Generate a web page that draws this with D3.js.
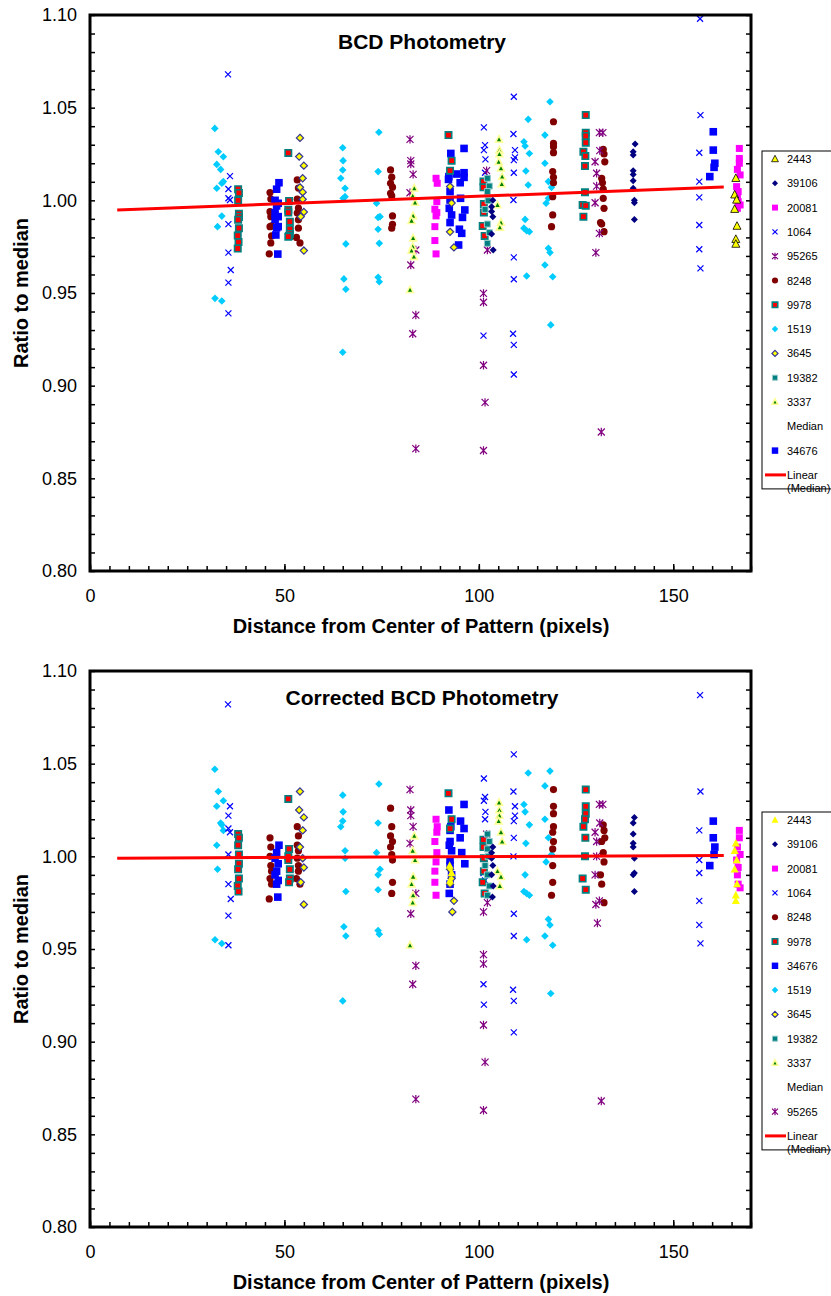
<!DOCTYPE html>
<html>
<head>
<meta charset="utf-8">
<script src="https://cdn.jsdelivr.net/npm/d3@7"></script>
<style>
  body { margin: 0; background: #fff; }
  svg { font-family: "Liberation Sans", Arial, sans-serif; }
  .tick text { font-size: 18px; fill: #000; }
  .axis path { display: none; }
  .axis line { stroke: #000; stroke-width: 1.5; }
  .title { font-size: 21px; font-weight: bold; }
  .axisLabel { font-size: 20px; font-weight: bold; }
  .legend text { font-size: 11px; }
</style>
</head>
<body>
<svg id="chart" width="831" height="1296"></svg>
<script>
'use strict'

// ---------- chart 1 : BCD Photometry ----------
const bcd2443 = [[166.1,1.0119],[165.8,1.003],[166.3,1.0002],[165.8,0.9952],[166.4,0.9861],[166.1,0.979],[166.1,0.9764]]
const bcd39106 = [[103.6,1.0],[103.3,0.9966],[103.3,0.994],[103.6,0.9912],[103.3,0.9818],[103.7,0.9732],
  [140.2,1.0304],[139.7,1.0262],[139.7,1.0244],[139.7,1.016],[139.7,1.014],[139.7,1.0106],[139.7,1.0065],[140,1.0],[140,0.9987],[140,0.9897]]
const bcd20081 = [[89,1.0119],[89.3,1.0092],[89.2,0.9993],[88.7,0.9952],[89.2,0.9934],[89,0.9916],[88.7,0.9858],[88.7,0.9783],[89,0.9711],
  [167,1.028],[167,1.0226],[167,1.02],[166.5,1.0167],[167.2,1.0137],[166.3,1.0074],[166.7,1.0047],[166.5,1.0029],[166.7,0.9993],[167.2,0.9975],[166.5,0.9957]]
const bcd1064 = [[35.5,1.068],[36,1.0131],[35.6,1.0061],[35.6,1.0011],[36,1.0002],[35.6,0.9872],[35.6,0.9718],[36.2,0.9624],[35.6,0.9556],[35.6,0.939],
  [101.3,1.0394],[101.6,1.0298],[101.3,1.0271],[101.7,1.0221],[101.6,1.0149],[101.2,0.927],
  [109,1.0559],[108.9,1.0358],[109.3,1.0271],[109.3,1.0232],[109,1.0217],[109,1.0149],[108.9,1.0002],[109,0.9692],[109,0.9574],[108.8,0.928],[109,0.922],[109,0.906],
  [156.9,1.098],[157,1.046],[156.7,1.0257],[156.7,1.0101],[156.7,1.0016],[156.7,0.9867],[156.7,0.9736],[157,0.9633]]
const bcd95265 = [[82.3,1.0329],[82.5,1.0214],[82.5,1.0196],[83.1,1.014],[82.3,1.0041],[83.8,0.9732],[82.5,0.9651],[83.8,0.9381],[83,0.928],[83.8,0.866],
  [102,1.016],[102.2,0.9732],[101.2,0.9498],[101.2,0.945],[101.2,0.911],[101.6,0.891],[101.2,0.865],
  [131,1.0365],[131.9,1.0365],[131.1,1.0268],[129.9,1.0208],[130.3,1.0146],[130.3,1.0077],[129.9,0.9987],[131,0.9822],[130.1,0.9718],[131.5,0.875]]
const bcd8248 = [[46.3,1.0042],[46.5,1.0007],[46.3,0.9939],[46.5,0.9912],[46.7,0.9862],[46.3,0.9858],[46.7,0.9808],[46.5,0.977],[46.1,0.9711],
  [53.3,1.011],[53.6,1.0066],[53.3,1.0006],[53.6,0.9958],[53.3,0.9931],[53.6,0.9895],[53.6,0.985],[53.1,0.98],[54,0.977],
  [77.3,1.0164],[77.6,1.0125],[77.3,1.0092],[77.8,1.0071],[77.3,1.0038],[77.6,1.0024],[77.8,0.9916],[77.8,0.9871],[77.6,0.985],
  [119.2,1.0424],[119.2,1.0307],[119.2,1.0289],[119.2,1.0257],[119,1.0155],[119.2,1.0124],[119.2,1.0095],[119,1.002],[119,0.9921],[118.7,0.9858],
  [132,1.0275],[132.2,1.025],[132.4,1.0208],[131.6,1.0119],[131.8,1.0095],[132,1.006],[132,1.0011],[132.2,0.9957],[131.3,0.988],[131.6,0.9872],[132.2,0.9831]]
const bcd9978 = [[38.1,1.006],[38.3,1.004],[38.1,1.0],[38.3,0.9927],[38.3,0.991],[38.1,0.9895],[38.3,0.985],[38,0.981],[38.2,0.9775],[38,0.974],
  [51,1.0256],[51.2,0.9997],[51,0.9949],[51,0.9934],[51.4,0.9885],[51.4,0.9844],[51.4,0.9819],[51.2,0.9808],[51,0.9804],
  [92.2,1.0352],[93,1.0214],[92.6,1.016],
  [101.2,1.0101],[101.2,1.007],[101.3,0.998],[101.3,0.9935],[101,0.9862],[101.5,0.9808],
  [127.5,1.046],[127.5,1.0365],[127.5,1.0347],[127.5,1.0311],[126.9,1.0262],[127.4,1.0239],[127.3,1.0185],[127.3,1.0043],[126.7,0.9975],[127.5,0.9971],[126.9,0.9912]]
const bcd1519 = [[32.1,1.0388],[33,1.0262],[34.3,1.0235],[32.6,1.0194],[33.6,1.0167],[33.9,1.0092],[34.3,1.0101],[32.6,1.0065],[33.9,0.9915],[32.8,0.9858],[32.15,0.9471],[33.9,0.9457],
  [65,1.0284],[65.1,1.0214],[65,1.0164],[64.5,1.0119],[65.6,1.0065],[65.6,1.002],[65.1,1.0011],[65.8,0.9765],[65.3,0.9576],[65.8,0.952],[65,0.918],
  [74.3,1.0367],[74.1,1.0155],[73.7,0.9984],[74.6,0.9912],[74.1,0.9908],[74.1,0.9844],[74.4,0.9768],[74.1,0.9585],[74.4,0.9561],
  [112.7,1.0437],[111.6,1.0316],[111.9,1.0293],[113,1.0253],[112.1,1.0158],[112.7,1.0083],[111.9,0.9897],[111.6,0.985],[112.3,0.9836],[113,0.9831],[112.3,0.9592],
  [118.3,1.0532],[117,1.0352],[117,1.02],[117.9,1.0101],[118.7,1.007],[117.9,1.0011],[117.3,0.9984],[117.9,0.9741],[118.3,0.9718],[117,0.9651],[119,0.9588],[118.5,0.9328]]
const bcd3645 = [[54,1.0337],[53.8,1.0236],[55,1.0187],[54.7,1.0119],[54,1.007],[54.7,1.0044],[54.7,1.0006],[55,0.9937],[54.2,0.9912],[55,0.9729],
  [92.6,1.0074],[93,0.9985],[92.6,0.983],[93.6,0.9746]]
const bcd19382 = [[102.2,1.0119],[102.7,1.0077],[102.2,1.0047],[102.4,0.9998],[101.6,0.9951],[102.2,0.9872],[102.7,0.9826],[102.2,0.9768]]
const bcd3337 = [[83.4,1.0065],[83,1.0024],[83.6,0.9988],[83.1,0.9916],[82.7,0.989],[83.1,0.9796],[83,0.975],[82.7,0.9729],[83.3,0.9696],[82.3,0.9517],
  [105.2,1.0329],[105.3,1.0271],[105.3,1.025],[105.1,1.0208],[105.7,1.0173],[106,1.0128],[105.9,1.0088],[104.8,0.9975],[105.7,0.988],[105.4,0.9854]]
const bcd34676 = [[48.6,1.0095],[48,1.006],[47.6,1.0],[48.4,0.9984],[48,0.997],[47.6,0.9933],[48.4,0.9912],[47.6,0.9897],[48.4,0.9858],[48,0.9852],[47.8,0.9813],[48.3,0.971],
  [92.3,1.0128],[92.8,1.0253],[92.6,1.0047],[92.6,1.0002],[92.4,0.9957],[93,0.9921],[92.6,0.988],[96.2,1.028],[94.3,1.0142],[95.2,1.0095],[96.2,1.0149],[96.2,1.0124],
  [95.3,1.0011],[96.4,0.9948],[95.8,0.9908],[95,0.9844],[95.6,0.9822],[94.8,0.9759],[92.2,1.0113],
  [160.3,1.037],[160.3,1.0271],[160.7,1.02],[160.5,1.0178],[159.4,1.0128]]
const bcdTrendX = [7, 163]
const bcdTrendY = [0.9948, 1.0072]

// ---------- chart 2 : Corrected BCD Photometry ----------
const cor2443 = [[92.5,0.995],[93,0.991],[92.6,0.987],
  [166.1,1.007],[165.8,1.003],[166.3,0.998],[165.8,0.993],[166.4,0.985],[166.1,0.979],[166.1,0.976]]
const cor39106 = [[103.6,1.005],[103.3,1.002],[103.3,0.999],[103.6,0.995],[103.3,0.990],[103.7,0.984],[103.5,0.978],
  [140,1.021],[139.7,1.018],[139.7,1.012],[139.7,1.007],[139.7,1.005],[140,0.999],[140,0.991],[139.7,0.990],[140,0.981]]
const cor20081 = [[89,1.020],[89.3,1.016],[89.2,1.013],[88.7,1.008],[89.2,1.002],[89,0.997],[88.7,0.992],[88.7,0.986],[89,0.979],
  [167,1.014],[167,1.010],[166.5,1.005],[167.2,1.001],[166.3,0.998],[166.7,0.994],[166.5,0.990],[166.7,0.985],[167.2,0.983]]
const cor1064 = [[35.5,1.082],[36,1.027],[35.6,1.022],[35.6,1.015],[36,1.013],[35.6,1.001],[35.6,0.985],[36.2,0.977],[35.6,0.968],[35.6,0.952],
  [101.3,1.042],[101.6,1.032],[101.3,1.030],[101.7,1.024],[101.6,1.020],[101.3,1.008],[101.2,0.991],[101.6,0.987],[101.2,0.931],[101.3,0.920],
  [109,1.055],[108.9,1.035],[109.3,1.027],[109.3,1.022],[109,1.019],[109,1.010],[108.9,1.0],[109,0.969],[109,0.957],[108.8,0.928],[109,0.922],[109,0.905],
  [156.9,1.087],[157,1.035],[156.7,1.014],[156.7,0.998],[156.7,0.991],[156.7,0.976],[156.7,0.963],[157,0.953]]
const cor8248 = [[46.3,1.010],[46.5,1.005],[46.3,1.0],[46.5,0.995],[46.7,0.992],[46.3,0.988],[46.7,0.985],[46.1,0.977],
  [53.3,1.016],[53.6,1.011],[53.3,1.006],[53.6,1.003],[53.3,0.999],[53.6,0.995],[53.6,0.992],[53.1,0.988],[54,0.985],
  [77.3,1.026],[77.6,1.016],[77.3,1.011],[77.8,1.008],[77.3,1.005],[77.6,1.001],[77.8,0.998],[77.8,0.986],[77.6,0.980],
  [119.2,1.036],[119.2,1.027],[119.2,1.023],[119.2,1.016],[119,1.013],[119.2,1.008],[119,1.004],[119,0.995],[119,0.986],[118.7,0.979],
  [132,1.017],[132.2,1.014],[132.4,1.010],[131.6,1.008],[132,1.002],[132.2,0.997],[131.3,0.990],[131.6,0.985],[132.2,0.975]]
const cor9978 = [[38.1,1.012],[38.3,1.010],[38.1,1.006],[38.3,1.001],[38.3,0.996],[38.1,0.993],[38.3,0.988],[38,0.984],[38.2,0.981],
  [51,1.031],[51.2,1.004],[51,1.0],[51,0.998],[51.4,0.993],[51.4,0.988],[51.2,0.986],
  [92.2,1.034],[93,1.020],[92.6,1.015],
  [101.2,1.009],[101.2,1.005],[101.3,0.999],[101.3,0.992],[101,0.986],[101.5,0.980],
  [127.5,1.036],[127.5,1.027],[127.5,1.023],[127.3,1.020],[126.9,1.016],[127.4,1.010],[127.3,1.0],[126.7,0.988],[127.5,0.982]]
const cor34676 = [[48.6,1.006],[48,1.002],[47.6,0.999],[48.4,0.996],[48,0.992],[47.6,0.990],[48.4,0.987],[48,0.985],[48.3,0.978],
  [92.3,1.025],[92.8,1.016],[92.6,1.014],[92.6,1.008],[92.4,1.006],[93,1.003],[92.6,0.998],[92.6,0.995],[93,0.990],[92.6,0.985],[92.4,0.980],
  [96.2,1.028],[95.3,1.019],[96.2,1.015],[95.2,1.010],[95.6,1.002],[96.4,0.996],
  [160.3,1.019],[160.3,1.010],[160.7,1.005],[160.5,1.001],[159.4,0.995]]
const cor1519 = [[32.1,1.047],[33,1.035],[34.3,1.030],[32.6,1.027],[33.6,1.018],[33.9,1.017],[34.3,1.014],[32.6,1.006],[32.8,0.993],[32.15,0.955],[33.9,0.953],
  [65,1.033],[65.1,1.024],[65,1.019],[64.5,1.016],[65.6,1.003],[65.6,0.999],[65.8,0.981],[65.3,0.962],[65.8,0.957],[65,0.922],
  [74.3,1.039],[74.1,1.018],[73.7,1.002],[74.6,0.993],[74.1,0.990],[74.1,0.982],[74.1,0.960],[74.4,0.958],
  [112.7,1.045],[111.6,1.028],[111.9,1.024],[113,1.017],[112.1,1.007],[111.9,0.990],[111.6,0.981],[112.3,0.980],[113,0.979],[112.3,0.955],
  [118.3,1.046],[117,1.038],[117,1.020],[117.9,1.010],[118.7,1.001],[117.3,0.997],[117.9,0.966],[118.3,0.963],[117,0.957],[119,0.952],[118.5,0.926]]
const cor3645 = [[54,1.035],[53.8,1.025],[55,1.021],[54.7,1.014],[54,1.005],[54.7,0.999],[55,0.994],[54.2,0.986],[55,0.974],
  [92.6,0.993],[93,0.988],[92.6,0.985],[93.6,0.976],[93.2,0.970]]
const cor19382 = [[102.2,1.012],[102.7,1.008],[102.2,1.004],[102.4,1.0],[101.6,0.995],[102.2,0.990],[102.7,0.984],[102.2,0.979]]
const cor3337 = [[83.4,1.011],[83,1.003],[83.6,0.998],[83.1,0.989],[82.7,0.985],[83.1,0.979],[83,0.975],[82.3,0.952],
  [105.2,1.029],[105.3,1.025],[105.3,1.022],[105.1,1.019],[105.7,1.013],[106,1.008],[104.8,0.992],[105.7,0.989],[105.4,0.984]]
const cor95265 = [[82.3,1.036],[82.5,1.025],[82.5,1.022],[83.1,1.016],[82.3,1.007],[83.8,0.980],[82.5,0.969],[83.8,0.941],[83,0.931],[83.8,0.869],
  [102,1.012],[102.2,0.975],[101.2,0.970],[101.2,0.947],[101.2,0.942],[101.2,0.909],[101.6,0.889],[101.2,0.863],
  [131,1.028],[131.9,1.028],[131.1,1.018],[129.9,1.013],[130.3,1.008],[130.3,1.0],[129.9,0.990],[131,0.976],[130.1,0.974],[130.5,0.964],[131.5,0.868]]
const corTrendX = [7, 163]
const corTrendY = [0.999, 1.0005]

// ---------- marker styles ----------
const styles = {
  "2443":  {shape: "triangle", size: 4, fill: "#FFFF00", stroke: "#000", sw: 0.8},
  "2443b": {shape: "triangle", size: 4, fill: "#FFFF00", stroke: "none", sw: 0},
  "39106": {shape: "diamond", size: 3.5, fill: "#000080", stroke: "none", sw: 0},
  "20081": {shape: "square", size: 3.5, fill: "#FF00FF", stroke: "none", sw: 0},
  "1064":  {shape: "x", size: 3, fill: "none", stroke: "#0000FF", sw: 1.2},
  "95265": {shape: "star", size: 3.5, fill: "none", stroke: "#800080", sw: 1.2},
  "8248":  {shape: "circle", size: 3.6, fill: "#800000", stroke: "none", sw: 0},
  "9978":  {shape: "square", size: 3.2, fill: "#FF0000", stroke: "#008080", sw: 1.6},
  "1519":  {shape: "diamond", size: 3.8, fill: "#00CCFF", stroke: "none", sw: 0},
  "3645":  {shape: "diamond", size: 3.6, fill: "#FFFF00", stroke: "#333399", sw: 1.2},
  "19382": {shape: "square", size: 3, fill: "#008080", stroke: "#99CCCC", sw: 1},
  "3337":  {shape: "triangle", size: 3.4, fill: "#008000", stroke: "#FFFF99", sw: 1.6},
  "34676": {shape: "square", size: 3.8, fill: "#0000FF", stroke: "none", sw: 0}
}

function shapePath(shape, s) {
  switch (shape) {
    case "triangle": return `M0,${-s*1.1}L${s},${s*0.8}L${-s},${s*0.8}Z`
    case "diamond": return `M0,${-s}L${s},0L0,${s}L${-s},0Z`
    case "square": return `M${-s},${-s}H${s}V${s}H${-s}Z`
    case "x": return `M${-s},${-s}L${s},${s}M${-s},${s}L${s},${-s}`
    case "star": return `M${-s},${-s}L${s},${s}M${-s},${s}L${s},${-s}M0,${-s*1.2}V${s*1.2}`
    case "circle": return d3.symbol(d3.symbolCircle, Math.PI * s * s)()
  }
}

const svg = d3.select("#chart")
const plotLeft = 90, plotRight = 751

function drawChart(opt) {
  const x = d3.scaleLinear().domain([0, 170]).range([plotLeft, plotRight])
  const y = d3.scaleLinear().domain([0.80, 1.10]).range([opt.bottom, opt.top])
  const g = svg.append("g")

  // minor ticks left / right / bottom, pointing inward
  g.append("g").attr("class", "axis").attr("transform", `translate(${plotLeft},0)`)
    .call(d3.axisLeft(y).tickValues(d3.range(0, 31).map(i => 0.80 + i * 0.01)).tickSize(-5).tickFormat(""))
  g.append("g").attr("class", "axis").attr("transform", `translate(${plotRight},0)`)
    .call(d3.axisRight(y).tickValues(d3.range(0, 31).map(i => 0.80 + i * 0.01)).tickSize(-5).tickFormat(""))
  g.append("g").attr("class", "axis").attr("transform", `translate(0,${opt.bottom})`)
    .call(d3.axisBottom(x).tickValues(d3.range(0, 35).map(i => i * 5)).tickSize(-5).tickFormat(""))
  // major labels
  g.append("g").attr("class", "axis").attr("transform", `translate(${plotLeft},0)`)
    .call(d3.axisLeft(y).tickValues(yTicks).tickSize(0).tickPadding(13).tickFormat(d3.format(".2f")))
  g.append("g").attr("class", "axis").attr("transform", `translate(0,${opt.bottom})`)
    .call(d3.axisBottom(x).tickValues(xTicks).tickSize(-7).tickPadding(18).tickFormat(d3.format("d")))

  // points
  opt.series.forEach(s => {
    const st = styles[s.key]
    g.append("g").selectAll("path").data(s.data).enter().append("path")
      .attr("transform", d => `translate(${x(d[0])},${y(d[1])})`)
      .attr("d", shapePath(st.shape, st.size))
      .attr("fill", st.fill).attr("stroke", st.stroke).attr("stroke-width", st.sw)
  })

  // linear trend of the median
  g.append("line")
    .attr("x1", x(opt.trendX[0])).attr("y1", y(opt.trendY[0]))
    .attr("x2", x(opt.trendX[1])).attr("y2", y(opt.trendY[1]))
    .attr("stroke", "#FF0000").attr("stroke-width", 3)

  // frame
  g.append("rect").attr("x", plotLeft).attr("y", opt.top)
    .attr("width", plotRight - plotLeft).attr("height", opt.bottom - opt.top)
    .attr("fill", "none").attr("stroke", "#000").attr("stroke-width", 3)

  g.append("text").attr("class", "title").attr("x", 422).attr("y", opt.top + 34)
    .attr("text-anchor", "middle").text(opt.title)
  g.append("text").attr("class", "axisLabel").attr("x", 421).attr("y", opt.bottom + 62)
    .attr("text-anchor", "middle").text("Distance from Center of Pattern (pixels)")
  g.append("text").attr("class", "axisLabel")
    .attr("transform", `translate(28,${(opt.top + opt.bottom) / 2}) rotate(-90)`)
    .attr("text-anchor", "middle").text("Ratio to median")

  // legend
  const lg = g.append("g").attr("class", "legend")
  const rowH = 24.3
  lg.append("rect").attr("x", 762).attr("y", opt.legTop)
    .attr("width", 90).attr("height", opt.legend.length * rowH + 22)
    .attr("fill", "#fff").attr("stroke", "#000").attr("stroke-width", 1)
  opt.legend.forEach((name, i) => {
    const cy = opt.legTop + 8 + i * rowH
    const st = styles[opt.legendKeys[i]]
    if (st) {
      lg.append("path").attr("transform", `translate(775,${cy})`)
        .attr("d", shapePath(st.shape, st.size * 0.85))
        .attr("fill", st.fill).attr("stroke", st.stroke).attr("stroke-width", st.sw)
    }
    lg.append("text").attr("x", 787).attr("y", cy + 4).text(name)
  })
  const ly = opt.legTop + 8 + opt.legend.length * rowH
  lg.append("line").attr("x1", 765).attr("x2", 786).attr("y1", ly).attr("y2", ly)
    .attr("stroke", "#FF0000").attr("stroke-width", 3)
  lg.append("text").attr("x", 787).attr("y", ly + 4).text("Linear")
  lg.append("text").attr("x", 787).attr("y", ly + 17).text("(Median)")
}

const yTicks = [0.80, 0.85, 0.90, 0.95, 1.00, 1.05, 1.10]
const xTicks = [0, 50, 100, 150]
const legend1 = ["2443", "39106", "20081", "1064", "95265", "8248", "9978", "1519", "3645", "19382", "3337", "Median", "34676"]
const legend2 = ["2443", "39106", "20081", "1064", "8248", "9978", "34676", "1519", "3645", "19382", "3337", "Median", "95265"]

drawChart({
  top: 15, bottom: 571, title: "BCD Photometry", legTop: 151,
  legend: legend1, legendKeys: legend1,
  trendX: bcdTrendX, trendY: bcdTrendY,
  series: [
    {key: "1519", data: bcd1519}, {key: "1064", data: bcd1064}, {key: "8248", data: bcd8248},
    {key: "34676", data: bcd34676}, {key: "9978", data: bcd9978}, {key: "3645", data: bcd3645},
    {key: "95265", data: bcd95265}, {key: "3337", data: bcd3337}, {key: "20081", data: bcd20081},
    {key: "19382", data: bcd19382}, {key: "39106", data: bcd39106}, {key: "2443", data: bcd2443}
  ]
})

drawChart({
  top: 671, bottom: 1227, title: "Corrected BCD Photometry", legTop: 812,
  legend: legend2, legendKeys: legend2.map(k => k === "2443" ? "2443b" : k),
  trendX: corTrendX, trendY: corTrendY,
  series: [
    {key: "1519", data: cor1519}, {key: "1064", data: cor1064}, {key: "8248", data: cor8248},
    {key: "34676", data: cor34676}, {key: "9978", data: cor9978}, {key: "3645", data: cor3645},
    {key: "95265", data: cor95265}, {key: "3337", data: cor3337}, {key: "20081", data: cor20081},
    {key: "19382", data: cor19382}, {key: "39106", data: cor39106}, {key: "2443b", data: cor2443}
  ]
})
</script>
</body>
</html>
